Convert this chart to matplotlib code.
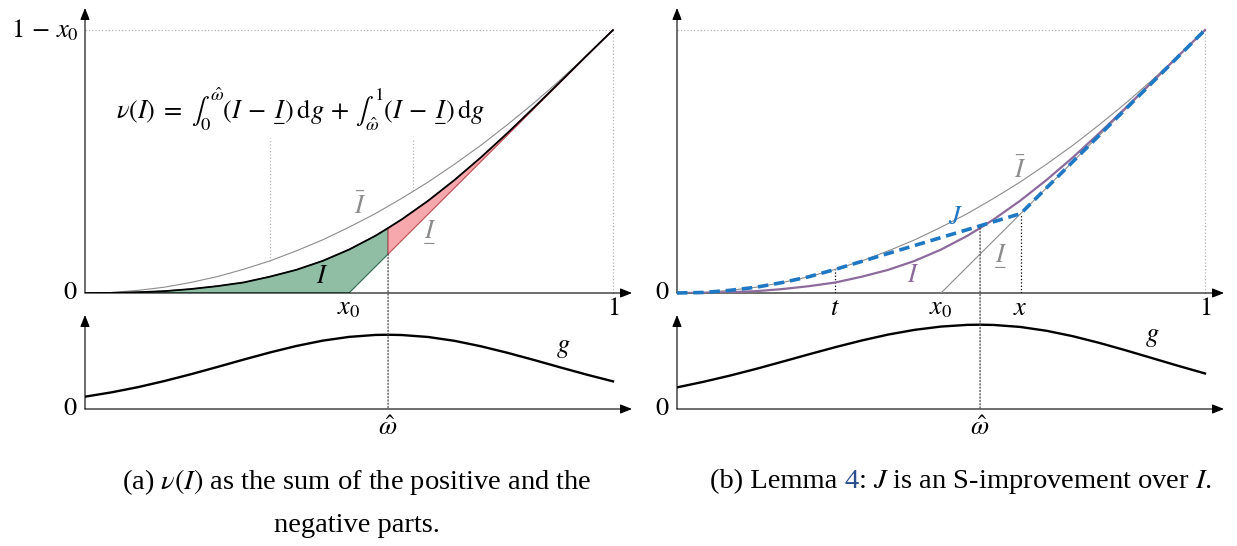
import numpy as np
import matplotlib
matplotlib.use('Agg')
import matplotlib.pyplot as plt
from matplotlib.patches import ConnectionPatch
from matplotlib.offsetbox import TextArea, HPacker, AnnotationBbox

plt.rcParams['mathtext.fontset'] = 'stix'
plt.rcParams['font.family'] = 'Liberation Serif'

# values, y in units where the top is 1 - x0 = 0.5
x0 = 0.5
w_hat = 0.574
t_pt = 0.30
x_pt = 0.651

grid_x = [0, .05, .1, .15, .2, .25, .3, .35, .4, .45, .5, .55, .6, .65, .7, .75, .8, .85, .9, .95, 1.0]
upper_y = [0, .001, .005, .011, .020, .031, .045, .061, .080, .101, .125, .151, .180, .211, .245, .281,
           .320, .361, .405, .451, .500]                                   # I bar

I_x = [0, .05, .1, .15, .2, .25, .3, .35, .4, .45, .5, .55, .574, .6, .65, .7, .75, .8, .85, .9, .95, 1.0]
I_y = [0, .0002, .0015, .0035, .0075, .013, .020, .031, .044, .061, .0825, .10875, .1235, .140, .1755,
       .215, .258, .304, .35225, .4015, .45125, .5]

lower_x = [0, x0, 1.0]                                                     # I underline
lower_y = [0, 0, 0.5]

J_x = [0, .05, .1, .15, .2, .25, .3, .651, 1.0]
J_y = [0, .001, .005, .011, .020, .031, .045, .151, .5]

g_x = [0, .05, .1, .15, .2, .25, .3, .35, .4, .45, .5, .55, .574, .6, .65, .7, .75, .8, .85, .9, .95, 1.0]
g_a = [.131, .177, .232, .297, .369, .446, .525, .601, .670, .727, .767, .788, .790, .787, .766, .725,
       .667, .598, .522, .443, .366, .294]
g_b = [.230, .289, .355, .427, .504, .582, .658, .729, .792, .842, .877, .895, .897, .894, .873, .832,
       .774, .703, .624, .541, .458, .378]

W, H = 1237, 546
fig = plt.figure(figsize=(W / 100, H / 100), dpi=100)

def px_axes(l, t, r, b):
    return fig.add_axes([l / W, 1 - b / H, (r - l) / W, (b - t) / H])

XMAX = (632 - 85) / 528
YTOP = 0.5 * (293 - 8) / 263
GRAY = '#8c8c8c'
LGRAY = '#b5b5b5'
BLUE = '#1f78c4'
PURPLE = '#8d6a9c'
FS = 19

def frame(ax, ymax):
    ax.set_xlim(0, XMAX)
    ax.set_ylim(0, ymax)
    ax.axis('off')
    arrow = dict(arrowstyle='-|>,head_length=0.55,head_width=0.22', color='k', lw=0.8,
                 shrinkA=0, shrinkB=0, mutation_scale=13)
    ax.annotate('', xy=(XMAX, 0), xytext=(0, 0), arrowprops=arrow, annotation_clip=False)
    ax.annotate('', xy=(0, ymax), xytext=(0, 0), arrowprops=arrow, annotation_clip=False)

def box_lines(ax):
    ax.plot([0, 1], [0.5, 0.5], ls=':', color=LGRAY, lw=0.9, clip_on=False)
    ax.plot([1, 1], [0, 0.5], ls=':', color=LGRAY, lw=0.9, clip_on=False)

lb_w = np.interp(w_hat, lower_x, lower_y)
I_arr_x = np.array(I_x)
I_arr_y = np.array(I_y)

# ---------------- panel (a) ----------------
axa = px_axes(85, 8, 632, 293)
frame(axa, YTOP)
box_lines(axa)

left = I_arr_x <= w_hat
gx = list(I_arr_x[left]) + [w_hat, x0, 0]
gy = list(I_arr_y[left]) + [lb_w, 0, 0]
axa.fill(gx, gy, facecolor='#8fbea5', edgecolor='#2f6b4f', lw=0.8, zorder=2)
right = I_arr_x >= w_hat
rx = list(I_arr_x[right]) + [1.0, w_hat]
ry = list(I_arr_y[right]) + [0.5, lb_w]
axa.fill(rx, ry, facecolor='#f6a8ac', edgecolor='#c04b55', lw=0.8, zorder=2)

axa.plot(grid_x, upper_y, color=GRAY, lw=0.8, zorder=3)
axa.plot(I_x, I_y, color='k', lw=1.3, zorder=4)

# guide lines from the formula
for xg in [0.35, 0.622]:
    axa.plot([xg, xg], [np.interp(xg, grid_x, upper_y), 0.294], ls=':', color=LGRAY, lw=0.9)

axa.text(0.058, 0.35, r'$\nu(I) \;=\; \int_0^{\hat{\omega}}(I \,-\, \underset{-}{I})\,\mathrm{d}g'
         r' \,+\, \int_{\hat{\omega}}^{1}(I \,-\, \underset{-}{I})\,\mathrm{d}g$', fontsize=FS, va='center')

axa.text(0.521, 0.166, r'$\bar{I}$', color=GRAY, fontsize=FS, ha='center', va='center')
axa.text(0.651, 0.119, r'$\underset{-}{I}$', color=GRAY, fontsize=FS, ha='center', va='center')
axa.text(0.449, 0.030, r'$I$', color='k', fontsize=FS, ha='center', va='center')

axa.text(-0.012, 0.5, r'$1 \,-\, x_0$', fontsize=FS, ha='right', va='center')
axa.text(-0.014, 0, r'$0$', fontsize=FS, ha='right', va='center')
axa.text(x0, -0.010, r'$x_0$', fontsize=FS, ha='center', va='top')
axa.text(1.0, -0.010, r'$1$', fontsize=FS, ha='center', va='top')

axa2 = px_axes(85, 315, 632, 409)
frame(axa2, 1.0)
axa2.plot(g_x, g_a, color='k', lw=1.7)
axa2.text(0.905, 0.64, r'$g$', fontsize=FS, ha='center', va='center')
axa2.text(-0.014, 0, r'$0$', fontsize=FS, ha='right', va='center')
axa2.text(w_hat, -0.08, r'$\hat{\omega}$', fontsize=FS, ha='center', va='top')

con = ConnectionPatch(xyA=(w_hat, lb_w), coordsA=axa.transData, xyB=(w_hat, 0), coordsB=axa2.transData,
                      ls=':', color='#444444', lw=0.9)
fig.add_artist(con)

# ---------------- panel (b) ----------------
axb = px_axes(677, 8, 1224, 293)
frame(axb, YTOP)
box_lines(axb)

axb.plot(grid_x, upper_y, color=GRAY, lw=0.8, zorder=3)
axb.plot(lower_x[1:], lower_y[1:], color=GRAY, lw=0.8, zorder=3)
axb.plot(I_x, I_y, color=PURPLE, lw=1.6, zorder=4)
axb.plot(J_x, J_y, color=BLUE, lw=2.6, ls=(0, (2.9, 1.6)), zorder=5, clip_on=False)

J_t = np.interp(t_pt, J_x, J_y)
J_xp = np.interp(x_pt, J_x, J_y)
axb.plot([t_pt, t_pt], [0, J_t], ls=':', color='k', lw=0.9)
axb.plot([x_pt, x_pt], [0, J_xp], ls=':', color='k', lw=0.9)

axb.text(0.65, 0.234, r'$\bar{I}$', color=GRAY, fontsize=FS, ha='center', va='center')
axb.text(0.612, 0.072, r'$\underset{-}{I}$', color=GRAY, fontsize=FS, ha='center', va='center')
axb.text(0.527, 0.143, r'$J$', color=BLUE, fontsize=FS, ha='center', va='center')
axb.text(0.448, 0.032, r'$I$', color=PURPLE, fontsize=FS, ha='center', va='center')

axb.text(-0.014, 0, r'$0$', fontsize=FS, ha='right', va='center')
axb.text(t_pt, -0.010, r'$t$', fontsize=FS, ha='center', va='top')
axb.text(x0, -0.010, r'$x_0$', fontsize=FS, ha='center', va='top')
axb.text(x_pt, -0.010, r'$x$', fontsize=FS, ha='center', va='top')
axb.text(1.0, -0.010, r'$1$', fontsize=FS, ha='center', va='top')

axb2 = px_axes(677, 315, 1224, 409)
frame(axb2, 1.0)
axb2.plot(g_x, g_b, color='k', lw=1.7)
axb2.text(0.9, 0.76, r'$g$', fontsize=FS, ha='center', va='center')
axb2.text(-0.014, 0, r'$0$', fontsize=FS, ha='right', va='center')
axb2.text(w_hat, -0.08, r'$\hat{\omega}$', fontsize=FS, ha='center', va='top')

I_w = np.interp(w_hat, I_x, I_y)
con = ConnectionPatch(xyA=(w_hat, I_w), coordsA=axb.transData, xyB=(w_hat, 0), coordsB=axb2.transData,
                      ls=':', color='#444444', lw=0.9)
fig.add_artist(con)

# ---------------- captions ----------------
CFS = 20.5
fig.text(357 / W, 1 - 482 / H, '(a) $\\nu(I)$ as the sum of the positive and the',
         fontsize=CFS, ha='center', va='center')
fig.text(357 / W, 1 - 526 / H, 'negative parts.', fontsize=CFS, ha='center', va='center')

parts = [TextArea('(b) Lemma ', textprops=dict(fontsize=CFS)),
         TextArea('4', textprops=dict(fontsize=CFS, color='#2b4f8c')),
         TextArea(': $J$ is an S-improvement over $I$.', textprops=dict(fontsize=CFS))]
row = HPacker(children=parts, align='baseline', pad=0, sep=0)
ab = AnnotationBbox(row, (961 / W, 1 - 482 / H), xycoords='figure fraction', frameon=False,
                    box_alignment=(0.5, 0.5))
fig.add_artist(ab)

fig.savefig('out.png', dpi=100)
